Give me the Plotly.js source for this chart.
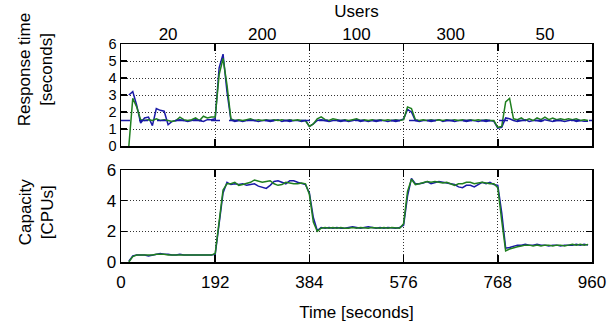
<!DOCTYPE html>
<html><head><meta charset="utf-8">
<script src="https://cdn.plot.ly/plotly-3.0.1.min.js"></script>
<style>html,body{margin:0;padding:0;background:#fff}</style>
</head><body><div id="chart" style="width:611px;height:331px"></div>
<script>
// Sample times (seconds)
const times = [16,24,32,40,48,56,64,72,80,88,96,104,112,120,128,136,144,152,160,168,176,184,192,200,
208,216,224,232,240,248,256,264,272,280,288,296,304,312,320,328,336,344,352,360,368,376,384,392,
400,408,416,424,432,440,448,456,464,472,480,488,496,504,512,520,528,536,544,552,560,568,576,584,
592,600,608,616,624,632,640,648,656,664,672,680,688,696,704,712,720,728,736,744,752,760,768,776,
784,792,800,808,816,824,832,840,848,856,864,872,880,888,896,904,912,920,928,936,944,952];

// Response time [seconds]
const rtBlue = [3.0,3.2,2.4,1.35,1.65,1.7,1.2,2.2,
2.1,2.05,1.25,1.45,1.5,1.55,1.5,1.45,
1.5,1.55,1.5,1.45,1.55,1.55,1.6,4.6,
5.4,3.2,1.55,1.45,1.5,1.45,1.5,1.55,
1.5,1.45,1.5,1.5,1.45,1.5,1.55,1.45,
1.5,1.45,1.5,1.5,1.45,1.5,1.15,1.3,
1.5,1.55,1.5,1.45,1.5,1.5,1.45,1.5,
1.45,1.5,1.55,1.45,1.5,1.45,1.5,1.45,
1.5,1.5,1.45,1.5,1.45,1.5,1.6,2.15,
2.0,1.5,1.45,1.5,1.5,1.45,1.5,1.55,
1.45,1.5,1.5,1.45,1.5,1.5,1.45,1.5,
1.5,1.45,1.5,1.45,1.5,1.45,1.05,1.1,
1.65,1.6,1.5,1.45,1.5,1.55,1.45,1.5,
1.5,1.45,1.55,1.5,1.45,1.5,1.5,1.45,
1.5,1.55,1.45,1.5,1.45,1.45];
const rtGreen = [0,2.8,2.3,1.55,1.5,1.55,1.5,1.6,
1.5,1.55,1.5,1.45,1.5,1.7,1.55,1.5,
1.55,1.65,1.5,1.75,1.65,1.7,1.7,4.2,
5.15,3.6,1.6,1.5,1.55,1.5,1.55,1.6,
1.5,1.55,1.5,1.55,1.5,1.55,1.5,1.55,
1.5,1.55,1.5,1.55,1.5,1.5,1.15,1.3,
1.6,1.72,1.55,1.5,1.6,1.55,1.5,1.55,
1.5,1.55,1.6,1.5,1.55,1.5,1.55,1.5,
1.55,1.5,1.55,1.5,1.55,1.5,1.55,2.3,
2.2,1.55,1.5,1.55,1.5,1.55,1.5,1.55,
1.5,1.55,1.5,1.55,1.5,1.55,1.5,1.55,
1.5,1.55,1.5,1.55,1.5,1.5,1.1,1.15,
2.6,2.8,1.6,1.55,1.65,1.5,1.6,1.5,
1.65,1.55,1.7,1.55,1.65,1.55,1.6,1.55,
1.6,1.55,1.6,1.5,1.55,1.5];
const rtTarget = 1.5;

// Capacity [CPUs]
const capBlue = [0.05,0.4,0.45,0.45,0.45,0.4,0.45,0.5,
0.55,0.5,0.5,0.45,0.45,0.5,0.45,0.45,
0.45,0.45,0.45,0.45,0.45,0.45,0.5,2.4,
4.5,5.2,5.05,5.1,5.05,5.1,5.0,5.05,
5.1,4.95,4.85,4.8,5.0,5.25,5.3,5.2,
5.1,5.3,5.3,5.2,5.1,5.05,4.5,2.9,
2.05,2.25,2.2,2.25,2.2,2.25,2.2,2.2,
2.25,2.3,2.25,2.2,2.25,2.3,2.25,2.2,
2.25,2.2,2.25,2.2,2.2,2.25,2.4,4.3,
5.45,5.1,5.1,5.15,5.25,5.1,5.2,5.25,
5.2,5.15,5.1,5.05,4.9,4.85,5.0,5.0,
4.9,5.05,5.2,5.1,5.2,5.05,5.0,3.2,
0.9,0.95,1.05,1.1,1.1,1.15,1.1,1.1,
1.15,1.1,1.1,1.05,1.1,1.1,1.05,1.1,
1.1,1.1,1.15,1.1,1.15,1.1];
const capGreen = [0,0.35,0.45,0.45,0.45,0.45,0.45,0.5,
0.5,0.5,0.45,0.45,0.45,0.45,0.45,0.45,
0.45,0.45,0.45,0.45,0.45,0.45,0.55,2.6,
4.7,5.1,5.1,5.2,5.0,5.05,5.1,5.2,
5.35,5.25,5.2,5.25,5.3,5.1,5.0,5.05,
5.2,5.15,5.1,5.1,5.15,5.1,4.4,2.6,
2.0,2.2,2.25,2.2,2.25,2.2,2.25,2.2,
2.2,2.25,2.2,2.25,2.2,2.2,2.25,2.2,
2.2,2.25,2.2,2.25,2.2,2.2,2.5,4.6,
5.4,5.05,5.1,5.2,5.25,5.2,5.25,5.2,
5.15,5.2,5.1,5.0,5.1,5.1,5.2,5.2,
5.1,5.15,5.2,5.15,5.1,5.1,4.85,2.7,
0.72,0.85,0.95,1.0,1.05,1.1,1.1,1.05,
1.1,1.05,1.1,1.1,1.05,1.1,1.1,1.05,
1.1,1.15,1.1,1.15,1.1,1.15];

// Tick labels
const timeTicks = [0,192,384,576,768,960];
const userCenters = [96,288,480,672,864];
const userLabels = ['20','200','100','300','50'];
const rtTicks = [0,1,2,3,4,5,6];
const capTicks = [0,2,4,6];

const BLUE = '#1a1aa6', GREEN = '#1f7f1f';
const F = 'Liberation Sans, Arial, sans-serif';
const FS = 17;
const xRange = [timeTicks[0], timeTicks[timeTicks.length-1]];

const traces = [
  {x: times, y: rtBlue, xaxis:'x', yaxis:'y', mode:'lines', line:{color:BLUE, width:1.5}},
  {x: times, y: rtGreen, xaxis:'x', yaxis:'y', mode:'lines', line:{color:GREEN, width:1.5}},
  {x: times, y: capBlue, xaxis:'x2', yaxis:'y2', mode:'lines', line:{color:BLUE, width:1.5}},
  {x: times, y: capGreen, xaxis:'x2', yaxis:'y2', mode:'lines', line:{color:GREEN, width:1.5}},
  {x: userCenters, y: userCenters.map(()=>null), xaxis:'x3', yaxis:'y', mode:'lines', hoverinfo:'skip'}
];

const axBase = {showline:true, mirror:'ticks', linecolor:'#000', linewidth:1.5,
  ticks:'inside', ticklen:7, tickwidth:1.5, tickcolor:'#000',
  showgrid:true, gridcolor:'#333', gridwidth:1, griddash:'1px,2px', zeroline:false,
  tickfont:{family:F, size:FS, color:'#000'}};

const layout = {
  width:611, height:331, showlegend:false,
  margin:{l:121, r:19, t:44, b:69},
  paper_bgcolor:'#fff', plot_bgcolor:'#fff',
  font:{family:F, size:FS, color:'#000'},
  xaxis: Object.assign({}, axBase, {domain:[0,1], anchor:'y', range:xRange, tickvals:timeTicks, showticklabels:false}),
  yaxis: Object.assign({}, axBase, {domain:[0.532,1], anchor:'x', range:[0,6], tickvals:rtTicks, ticklen:6,
    tickfont:{family:F, size:14.5, color:'#000'}}),
  xaxis2: Object.assign({}, axBase, {domain:[0,1], anchor:'y2', range:xRange, tickvals:timeTicks,
    ticklabelstandoff:4, title:{text:'Time [seconds]', font:{family:F, size:FS}, standoff:15}}),
  yaxis2: Object.assign({}, axBase, {domain:[0,0.422], anchor:'x2', range:[0,6], tickvals:capTicks, ticklen:6}),
  xaxis3: {overlaying:'x', anchor:'y', side:'top', range:xRange, tickvals:userCenters, ticktext:userLabels,
    showgrid:false, showline:false, ticks:'', zeroline:false, tickfont:{family:F, size:FS},
    title:{text:'Users', font:{family:F, size:FS}, standoff:2}},
  shapes:[{type:'line', xref:'x', yref:'y', x0:xRange[0], x1:xRange[1], y0:rtTarget, y1:rtTarget,
    line:{color:BLUE, width:1.5, dash:'dash'}, layer:'above'}],
  annotations:[
    {xref:'paper', yref:'paper', x:-0.18, y:0.881, xanchor:'center', yanchor:'middle', textangle:-90,
     text:'Response time<br>[seconds]', showarrow:false, font:{family:F, size:FS}},
    {xref:'paper', yref:'paper', x:-0.18, y:0.229, xanchor:'center', yanchor:'middle', textangle:-90,
     text:'Capacity<br>[CPUs]', showarrow:false, font:{family:F, size:FS}}
  ]
};
Plotly.newPlot('chart', traces, layout, {staticPlot:true, displayModeBar:false});
</script></body></html>
